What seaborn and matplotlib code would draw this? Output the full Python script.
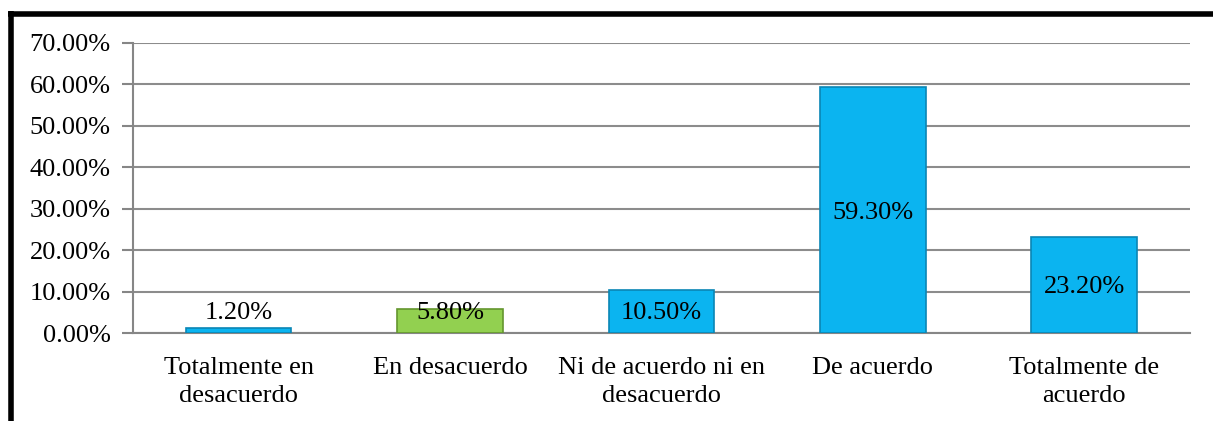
import seaborn as sns
import pandas as pd
from matplotlib import pyplot as plt
from matplotlib.lines import Line2D
from matplotlib.ticker import FuncFormatter

# Datos de la encuesta
categorias = ["Totalmente en\ndesacuerdo", "En desacuerdo", "Ni de acuerdo ni en\ndesacuerdo",
              "De acuerdo", "Totalmente de\nacuerdo"]
porcentajes = [1.20, 5.80, 10.50, 59.30, 23.20]
colores = ["#0BB4F0", "#92D050", "#0BB4F0", "#0BB4F0", "#0BB4F0"]
bordes = ["#0A86B5", "#64962E", "#0A86B5", "#0A86B5", "#0A86B5"]

df = pd.DataFrame({"categoria": categorias, "valor": porcentajes})

sns.set_style("white")
plt.rcParams['font.family'] = ['Liberation Serif', 'DejaVu Serif']
plt.rcParams['text.color'] = 'black'
plt.rcParams['xtick.labelcolor'] = 'black'
plt.rcParams['ytick.labelcolor'] = 'black'

fig = plt.figure(figsize=(12.13, 4.21), dpi=100)
ax = fig.add_axes([0.1096, 0.209, 0.8714, 0.689])

sns.barplot(data=df, x="categoria", y="valor", hue="categoria", palette=colores,
            saturation=1, width=0.5, legend=False, ax=ax, zorder=3)

for patch, borde in zip(ax.patches, bordes):
    patch.set_edgecolor(borde)
    patch.set_linewidth(1.2)

# etiquetas de datos
for i, v in enumerate(porcentajes):
    ax.text(i, max(v / 2, 5.5), f"{v:.2f}%", ha="center", va="center_baseline",
            fontsize=19, color="black", zorder=4)

ax.set_ylim(0, 70)
ax.set_xlim(-0.5, 4.5)
ax.set_yticks(range(0, 71, 10))
ax.yaxis.set_major_formatter(FuncFormatter(lambda y, p: f"{y:.2f}%"))
ax.set_xticks([-0.5, 0.5, 1.5, 2.5, 3.5, 4.5], minor=False)
ax.set_xticklabels([""] * 6)
ax.set_xticks(range(5), minor=True)
ax.set_xticklabels(categorias, minor=True, fontsize=19, linespacing=1.35, color="black")
ax.tick_params(axis="x", which="major", length=8, width=1.5, color="#868686", direction="out")
ax.tick_params(axis="x", which="minor", length=0, pad=17)
ax.tick_params(axis="y", length=8, width=1.5, color="#868686", labelsize=19, pad=8, left=True,
               labelcolor="black")
ax.set_xlabel("")
ax.set_ylabel("")

ax.grid(axis="y", color="#8C8C8C", linewidth=1.5, zorder=0)
ax.set_axisbelow(True)
for s in ["top", "right"]:
    ax.spines[s].set_visible(False)
for s in ["left", "bottom"]:
    ax.spines[s].set_color("#868686")
    ax.spines[s].set_linewidth(1.5)

# marco negro
fig.add_artist(Line2D([10.5 / 1213, 10.5 / 1213], [0, 1 - 11 / 421], color="black",
                      linewidth=4, solid_capstyle="butt", transform=fig.transFigure))
fig.add_artist(Line2D([8 / 1213, 1], [1 - 13.5 / 421, 1 - 13.5 / 421], color="black",
                      linewidth=4, solid_capstyle="butt", transform=fig.transFigure))

fig.savefig("out.png", dpi=100)
